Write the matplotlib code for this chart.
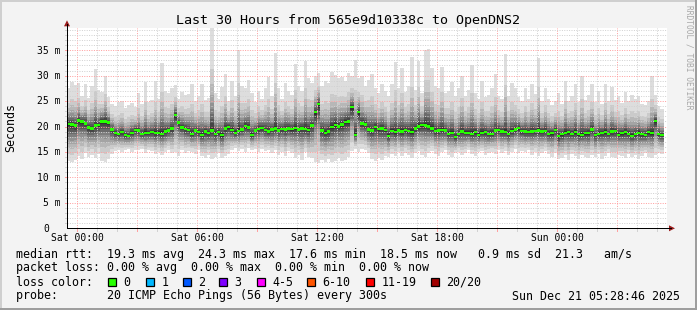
import numpy as np
import matplotlib
matplotlib.use("Agg")
import matplotlib.pyplot as plt
from matplotlib.patches import Rectangle, Polygon

W, H = 697, 310
MONO = "DejaVu Sans Mono"

title = "Last 30 Hours from 565e9d10338c to OpenDNS2"

# one column every 10 minutes, first one starts Fri 23:30 (hours from Sat 00:00)
start_h = -0.5
step_h = 10 / 60.0

# median rtt per column (ms)
med = [20.5, 20.4, 20.2, 21.2, 21.0, 20.6, 19.8, 19.6, 20.2, 20.3,
       21.0, 21.0, 20.8, 19.4, 18.7, 18.5, 18.9, 18.3, 18.2, 18.8,
       19.3, 19.2, 18.6, 18.8, 18.7, 18.9, 18.7, 18.8, 18.6, 19.0,
       19.2, 19.6, 22.2, 20.8, 19.8, 19.5, 19.3, 18.6, 19.2, 18.9,
       18.4, 19.0, 18.7, 19.2, 18.6, 18.9, 18.3, 19.6, 19.9, 19.3,
       18.8, 19.1, 19.4, 20.1, 19.8, 18.4, 19.2, 19.5, 19.7, 19.3,
       19.0, 19.4, 19.6, 19.2, 19.5, 19.4, 19.6, 19.5, 19.7, 19.4,
       19.6, 19.5, 19.3, 20.2, 22.8, 24.4, 19.2, 18.8, 19.0, 19.9,
       20.3, 20.0, 20.4, 20.9, 21.0, 23.8, 18.4, 22.8, 20.6, 20.4,
       19.4, 19.2, 19.9, 19.5, 19.6, 19.3, 18.2, 19.1, 18.9, 19.2,
       19.0, 19.3, 19.1, 18.9, 19.6, 20.0, 20.3, 20.2, 20.0, 19.6,
       19.1, 19.2, 19.3, 19.2, 18.6, 18.8, 17.9, 18.5, 19.0, 18.8,
       18.8, 18.6, 18.9, 18.4, 18.8, 18.9, 18.5, 18.6, 19.2, 19.3,
       19.0, 18.9, 18.6, 19.1, 19.4, 19.7, 19.1, 19.0, 18.9, 19.0,
       19.1, 19.2, 19.0, 19.1, 18.6, 18.7, 19.3, 18.1, 18.5, 18.8,
       18.9, 18.6, 18.9, 18.5, 18.4, 18.7, 18.7, 19.4, 18.3, 18.6,
       18.8, 18.9, 18.5, 19.0, 19.1, 18.4, 18.7, 18.9, 18.6, 18.2,
       18.5, 18.8, 18.5, 18.4, 18.9, 18.7, 21.1, 18.6, 18.3]

# slowest ping per column (ms)
hi = [27.5, 28.8, 28.2, 28.6, 26.0, 28.4, 25.6, 28.0, 31.4, 27.2,
      26.8, 30.0, 25.8, 24.5, 24.0, 24.8, 25.0, 23.6, 24.2, 24.6,
      23.8, 26.5, 24.5, 28.7, 24.8, 25.3, 29.0, 25.5, 32.4, 27.0,
      26.5, 27.6, 28.2, 25.5, 26.8, 26.2, 26.4, 28.4, 25.0, 26.0,
      28.4, 25.3, 25.6, 39.4, 26.5, 25.5, 27.8, 30.4, 25.0, 29.0,
      26.0, 35.0, 28.0, 27.5, 29.2, 26.5, 24.8, 27.0, 25.5, 27.5,
      29.8, 26.0, 34.5, 27.6, 25.5, 28.5, 27.0, 26.2, 32.2, 28.0,
      27.0, 32.8, 29.5, 28.5, 30.0, 30.5, 28.0, 29.0, 28.5, 30.7,
      30.2, 29.6, 29.8, 29.0, 30.5, 30.0, 33.0, 29.5, 30.0, 28.0,
      29.2, 30.4, 27.5, 26.5, 28.3, 27.0, 26.0, 28.4, 32.7, 27.5,
      31.5, 26.8, 28.0, 33.7, 27.2, 32.9, 26.5, 35.0, 35.2, 31.5,
      28.0, 27.5, 31.7, 26.5, 27.0, 28.8, 26.0, 27.5, 30.0, 26.0,
      27.2, 32.0, 26.5, 25.5, 28.9, 25.8, 26.2, 27.5, 30.3, 26.0,
      25.5, 34.3, 26.0, 28.5, 27.5, 25.8, 25.0, 27.5, 25.4, 28.3,
      26.3, 33.4, 25.0, 27.5, 25.5, 24.2, 25.0, 26.5, 24.5, 29.0,
      25.0, 26.0, 28.4, 24.8, 30.0, 25.2, 26.2, 28.4, 24.8, 27.0,
      24.5, 28.4, 25.0, 27.8, 25.2, 26.0, 24.6, 26.7, 25.0, 26.2,
      25.5, 26.0, 24.5, 24.3, 25.0, 30.0, 26.2, 24.0, 23.5]

# fastest ping per column (ms)
lo = [13.2, 13.0, 13.5, 14.2, 13.6, 14.8, 14.0, 14.5, 13.8, 14.6,
      13.3, 13.1, 13.6, 14.6, 15.2, 15.4, 14.9, 15.3, 15.5, 15.0,
      15.4, 15.3, 15.6, 14.8, 15.4, 15.2, 14.6, 15.0, 14.4, 14.9,
      15.3, 14.7, 15.0, 14.2, 15.3, 14.8, 15.2, 15.0, 14.6, 15.4,
      14.2, 13.8, 14.5, 13.6, 14.0, 14.8, 13.9, 14.3, 14.6, 15.4,
      15.8, 15.2, 15.6, 15.0, 15.7, 15.3, 15.5, 14.9, 15.6, 15.2,
      15.4, 14.8, 15.3, 14.5, 15.0, 14.2, 15.1, 14.7, 13.8, 14.4,
      13.5, 14.9, 14.0, 13.8, 13.0, 12.9, 13.4, 13.1, 13.6, 13.0,
      13.3, 13.8, 13.2, 13.5, 14.0, 15.2, 15.5, 15.0, 15.6, 15.3,
      14.8, 13.6, 13.2, 13.8, 13.4, 14.2, 14.0, 14.6, 14.3, 15.0,
      14.2, 14.8, 14.5, 13.9, 14.7, 15.1, 14.4, 14.0, 14.8, 15.2,
      14.6, 14.3, 14.9, 15.3, 14.5, 14.1, 14.7, 15.0, 14.4, 14.8,
      15.3, 14.6, 14.2, 14.9, 15.1, 14.5, 14.8, 15.0, 14.6, 15.4,
      14.8, 15.2, 14.4, 15.0, 15.5, 14.7, 15.1, 14.9, 15.3, 14.5,
      15.0, 14.3, 14.8, 15.2, 14.6, 14.1, 14.7, 13.6, 13.8, 14.4,
      13.5, 14.6, 14.2, 13.6, 14.5, 14.0, 13.8, 14.4, 14.0, 14.6,
      13.7, 14.3, 14.8, 14.1, 13.9, 14.5, 14.2, 13.8, 14.6, 14.0,
      14.4, 13.6, 14.3, 14.7, 14.1, 13.9, 14.4, 14.8, 14.6]

assert len(med) == len(hi) == len(lo)

x_tick_hours = [0, 6, 12, 18, 24]
x_tick_labels = ["Sat 00:00", "Sat 06:00", "Sat 12:00", "Sat 18:00", "Sun 00:00"]
y_tick_values = [0, 5, 10, 15, 20, 25, 30, 35]
y_tick_labels = ["0", "5 m", "10 m", "15 m", "20 m", "25 m", "30 m", "35 m"]

stat_lines = [
    "median rtt:  19.3 ms avg  24.3 ms max  17.6 ms min  18.5 ms now   0.9 ms sd  21.3   am/s",
    "packet loss: 0.00 % avg  0.00 % max  0.00 % min  0.00 % now",
]
loss_labels = ["0", "1", "2", "3", "4-5", "6-10", "11-19", "20/20"]
loss_colors = ["#26ff00", "#00b8ff", "#0059ff", "#7e00ff", "#ff00ff", "#ff5500", "#ff0000", "#a10000"]
probe_line = "probe:       20 ICMP Echo Pings (56 Bytes) every 300s"
stamp = "Sun Dec 21 05:28:46 2025"

# smoke look: 10 nested bands, outer light -> inner dark
low_frac = [1.0, 0.8, 0.65, 0.53, 0.43, 0.34, 0.26, 0.19, 0.12, 0.06]
up_frac = [1.0, 0.6, 0.45, 0.35, 0.27, 0.21, 0.16, 0.11, 0.07, 0.035]
greys = [221, 202, 183, 164, 145, 126, 107, 88, 69, 50]

# plot box in pixels
X0, X1 = 67, 667
Y0, Y1 = 228.3, 28.3
YMAX = 39.3

fig = plt.figure(figsize=(W / 100, H / 100), dpi=100)
fig.patch.set_facecolor("#f3f3f3")

ax = fig.add_axes([X0 / W, (H - Y0) / H, (X1 - X0) / W, (Y0 - Y1) / H])
ax.set_facecolor("white")
ax.set_xlim(-0.5, 29.5)
ax.set_ylim(0, YMAX)
for s in ax.spines.values():
    s.set_visible(False)
ax.set_xticks([])
ax.set_yticks([])

m = np.array(med)
h = np.array(hi)
l = np.array(lo)
edges = start_h + step_h * np.arange(len(m) + 1)


def ext(a):
    return np.append(a, a[-1])


for k in range(10):
    bot = m - (m - l) * low_frac[k]
    top = m + (h - m) * up_frac[k]
    g = greys[k] / 255.0
    ax.fill_between(edges, ext(bot), ext(top), step="post", color=(g, g, g), lw=0, zorder=1)

# grid (drawn over the smoke, like rrdtool)
minor_c = "#d2d2d2"
major_c = "#ffa0a0"
for hr in range(0, 30):
    c = major_c if hr % 3 == 0 else minor_c
    ax.axvline(hr, color=c, lw=0.72, dashes=(1, 1.4), zorder=2)
for v in range(1, 40):
    if v > YMAX:
        break
    c = major_c if v % 5 == 0 else minor_c
    ax.axhline(v, color=c, lw=0.72, dashes=(1, 1.4), zorder=2)

# median, coloured by loss (all 0 here)
ax.fill_between(edges, ext(m - 0.22), ext(m + 0.22), step="post", color=loss_colors[0], lw=0, zorder=3)

# overlay in pixel coordinates for everything around the plot
ov = fig.add_axes([0, 0, 1, 1], zorder=5)
ov.set_xlim(0, W)
ov.set_ylim(H, 0)
ov.axis("off")


def ypx(v):
    return Y0 - v * (Y0 - Y1) / YMAX


def xpx(hr):
    return X0 + (hr + 0.5) * (X1 - X0) / 30.0


# frame shading
ov.add_patch(Rectangle((0, 0), W, 2, color="#cfcfcf", lw=0))
ov.add_patch(Rectangle((0, 0), 2, H, color="#cfcfcf", lw=0))
ov.add_patch(Rectangle((W - 2.5, 0), 2.5, H, color="#9e9e9e", lw=0))
ov.add_patch(Rectangle((0, H - 2.5), W, 2.5, color="#9e9e9e", lw=0))

# small ticks
for hr in range(0, 30):
    c = major_c if hr % 3 == 0 else minor_c
    ov.plot([xpx(hr), xpx(hr)], [Y0, Y0 + 2.5], color=c, lw=0.72)
for v in range(1, 40):
    if v > YMAX:
        break
    c = major_c if v % 5 == 0 else minor_c
    ov.plot([X0 - 2.5, X0], [ypx(v), ypx(v)], color=c, lw=0.72)

# axes with arrows
ov.plot([X0, X1 + 4], [Y0, Y0], color="black", lw=0.72)
ov.plot([X0, X0], [Y0, Y1 - 4], color="black", lw=0.72)
ov.add_patch(Polygon([[X1 + 8, Y0], [X1 + 2, Y0 - 3], [X1 + 2, Y0 + 3]], color="#9b1c1c", lw=0))
ov.add_patch(Polygon([[X0, Y1 - 8], [X0 - 3, Y1 - 2], [X0 + 3, Y1 - 2]], color="#9b1c1c", lw=0))

# title
ov.text(348, 24, title, ha="center", va="baseline", fontsize=9.6, family=MONO, color="black")

# tick labels
tick_fs = 7.0
adv = tick_fs / 72 * 100 * 0.602
for hr, lab in zip(x_tick_hours, x_tick_labels):
    ov.text(xpx(hr), 240.7, lab, ha="center", va="baseline", fontsize=tick_fs, family=MONO)
for v, lab in zip(y_tick_values, y_tick_labels):
    ncols = len(lab.split()[0]) + 2
    ov.text(60.5 - ncols * adv, ypx(v) + 3.4, lab, ha="left", va="baseline", fontsize=tick_fs, family=MONO)

ov.text(11, 127, "Seconds", rotation=90, ha="center", va="center", fontsize=8.4, family=MONO)
ov.text(689, 57, "RRDTOOL / TOBI OETIKER", rotation=270, ha="center", va="center",
        fontsize=5.7, family=MONO, color="#a8a8a8")

# legend block
leg_fs = 8.4
ov.text(16, 258, stat_lines[0], ha="left", va="baseline", fontsize=leg_fs, family=MONO)
ov.text(16, 271.5, stat_lines[1], ha="left", va="baseline", fontsize=leg_fs, family=MONO)
ov.text(16, 285.5, "loss color:", ha="left", va="baseline", fontsize=leg_fs, family=MONO)
box_x = [108, 145.7, 182.7, 219, 256.7, 306.7, 366, 430.7]
for bx, lab, col in zip(box_x, loss_labels, loss_colors):
    ov.add_patch(Rectangle((bx, 278), 8, 8, facecolor=col, edgecolor="black", lw=0.9))
    ov.text(bx + 15.5, 285.5, lab, ha="left", va="baseline", fontsize=leg_fs, family=MONO)
ov.text(16, 299.5, probe_line, ha="left", va="baseline", fontsize=leg_fs, family=MONO)
ov.text(680, 299.5, stamp, ha="right", va="baseline", fontsize=leg_fs, family=MONO)

fig.savefig("out.png", dpi=100, facecolor=fig.get_facecolor())
